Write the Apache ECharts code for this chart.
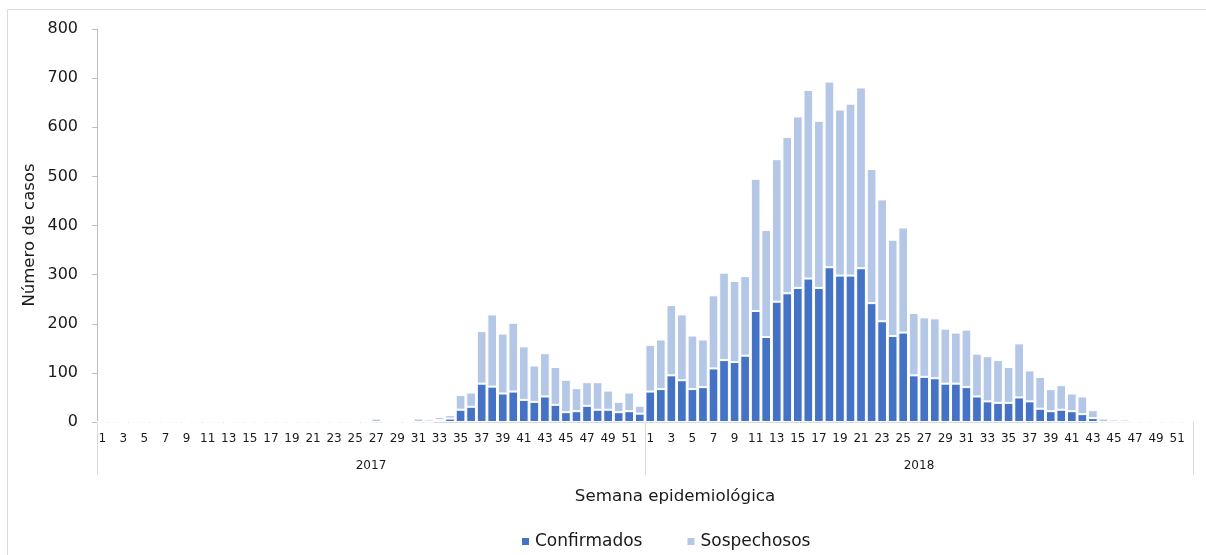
<!DOCTYPE html>
<html>
<head>
<meta charset="utf-8">
<script src="https://cdn.jsdelivr.net/npm/echarts@6/dist/echarts.min.js"></script>
<style>html,body{margin:0;padding:0;background:#fff}#c{width:1206px;height:555px}</style>
</head>
<body>
<div id="c"></div>
<script>
const years = ['2017', '2018'];
const weeks = Array.from({length: 52}, (_, i) => String(i + 1));
const yTicks = [0, 100, 200, 300, 400, 500, 600, 700, 800];

const confirmados2017 = [0,0,0,0,0,0,0,0,0,0, 0,0,0,0,0,0,0,0,0,0, 0,0,0,0,0,0,0,0,0,0, 0,0,4,7,25,31,78,72,58,62, 45,41,52,35,20,22,33,25,25,20, 22,17];
const sospechosos2017 = [0,0,0,0,0,0,0,0,0,0, 0,0,0,0,0,0,0,0,0,0, 0,0,0,0,0,0,7,0,0,0, 7,5,6,7,30,29,107,147,122,140, 109,74,88,77,66,47,48,56,39,21, 38,16];
const confirmados2018 = [62,67,95,85,67,71,109,126,122,135, 226,173,245,262,273,292,273,315,298,298, 313,242,205,175,182,95,92,89,78,78, 71,52,42,39,39,50,42,27,22,25, 22,16,8,0,0,0,0,0,0,0, 0,0];
const sospechosos2018 = [95,101,143,134,109,97,149,178,165,162, 269,218,290,318,349,384,340,378,338,350, 368,273,248,196,214,127,121,122,112,104, 117,87,92,87,73,110,63,65,45,50, 36,36,16,7,5,5,0,0,0,0, 0,0];

const categories = [];
years.forEach(y => weeks.forEach(w => categories.push(y + '-' + w)));
const confirmados = confirmados2017.concat(confirmados2018);
const sospechosos = sospechosos2017.concat(sospechosos2018);

const FONT = 'DejaVu Sans';
const TXT = '#1a1a1a';
const chart = echarts.init(document.getElementById('c'), null, {renderer: 'canvas'});
chart.setOption({
  animation: false,
  textStyle: {fontFamily: FONT},
  grid: {left: 97, right: 13, top: 29, bottom: 133, containLabel: false},
  legend: {
    data: ['Confirmados', 'Sospechosos'],
    left: 515, top: 528,
    itemWidth: 9, itemHeight: 9, itemGap: 43,
    icon: 'rect',
    textStyle: {fontFamily: FONT, fontSize: 17, color: TXT}
  },
  graphic: [
    {type: 'rect', silent: true, shape: {x: 7.5, y: 9.5, width: 1220, height: 600},
     style: {fill: 'none', stroke: '#d9d9d9', lineWidth: 1}},
    {type: 'text', silent: true, x: 675, y: 497,
     style: {text: 'Semana epidemiológica', font: '16.7px "DejaVu Sans"', fill: TXT, textAlign: 'center', textVerticalAlign: 'middle'}},
    {type: 'text', silent: true, x: 30, y: 235, rotation: Math.PI / 2,
     style: {text: 'Número de casos', font: '16.5px "DejaVu Sans"', fill: TXT, textAlign: 'center', textVerticalAlign: 'middle'}}
  ],
  xAxis: [
    {
      type: 'category', data: categories, position: 'bottom',
      axisLine: {show: true, lineStyle: {color: '#d9d9d9', width: 1}},
      axisTick: {show: false},
      axisLabel: {interval: 1, margin: 11, fontSize: 12, color: TXT, fontFamily: FONT,
                  formatter: v => v.split('-')[1]},
      splitLine: {show: false}
    },
    {
      type: 'category', data: years, position: 'bottom', gridIndex: 0,
      axisLine: {show: false},
      axisTick: {show: true, length: 53, lineStyle: {color: '#d9d9d9'}},
      axisLabel: {margin: 38, fontSize: 12, color: TXT, fontFamily: FONT},
      splitLine: {show: false}
    }
  ],
  yAxis: {
    type: 'value', min: yTicks[0], max: yTicks[yTicks.length - 1], interval: 100,
    axisLine: {show: true, lineStyle: {color: '#bfbfbf'}},
    axisTick: {show: true, length: 5, lineStyle: {color: '#bfbfbf'}},
    axisLabel: {fontSize: 16, color: TXT, margin: 19, fontFamily: FONT},
    splitLine: {show: false}
  },
  series: [
    {name: 'Confirmados', type: 'bar', stack: 'total', xAxisIndex: 0, data: confirmados,
     barCategoryGap: '8%',
     itemStyle: {color: '#4472C4', borderColor: '#ffffff', borderWidth: 1}},
    {name: 'Sospechosos', type: 'bar', stack: 'total', xAxisIndex: 0, data: sospechosos,
     barCategoryGap: '8%',
     itemStyle: {color: '#B4C7E7', borderColor: '#ffffff', borderWidth: 1}}
  ]
});
</script>
</body>
</html>
